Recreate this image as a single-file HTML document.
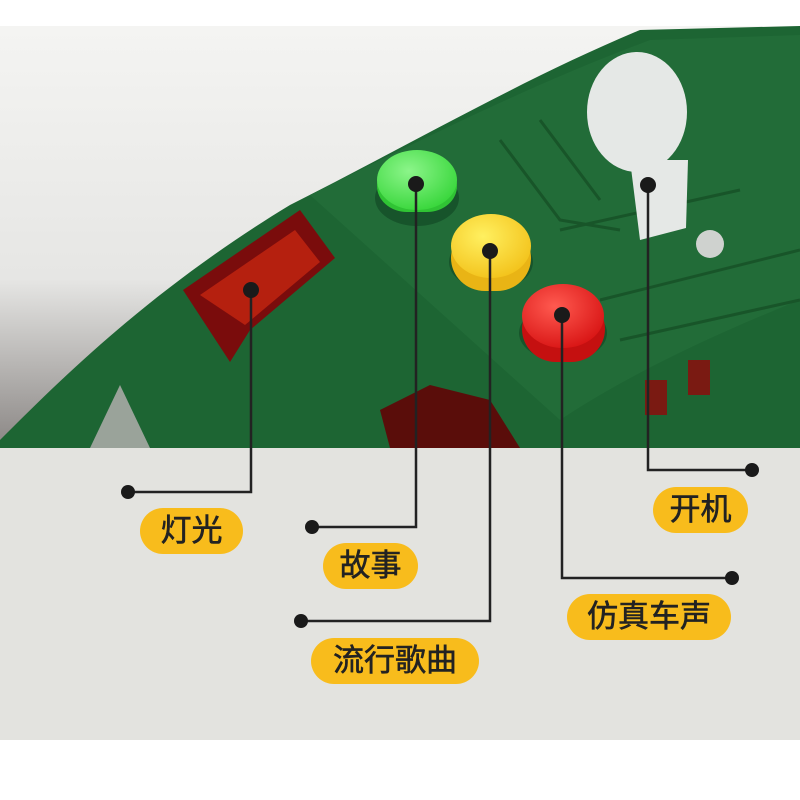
<!DOCTYPE html>
<html><head><meta charset="utf-8"><style>
body{margin:0;width:800px;height:800px;overflow:hidden;background:#fff;font-family:"Liberation Sans","Noto Sans CJK SC",sans-serif}
.pill{position:absolute;background:#f8bc1c;border-radius:23px;height:46px;line-height:46px;text-align:center;font-size:31px;color:#222;-webkit-text-stroke:0.6px #222}
</style></head><body>
<svg width="800" height="800" style="position:absolute;left:0;top:0">
<defs>
<linearGradient id="bg" x1="0" y1="0" x2="0" y2="1"><stop offset="0" stop-color="#f4f4f2"/><stop offset="0.6" stop-color="#e6e6e4"/><stop offset="1" stop-color="#8a8684"/></linearGradient>
<radialGradient id="gb" cx="0.4" cy="0.35" r="0.7"><stop offset="0" stop-color="#8cf58a"/><stop offset="1" stop-color="#37d63a"/></radialGradient>
<radialGradient id="yb" cx="0.4" cy="0.35" r="0.7"><stop offset="0" stop-color="#fff060"/><stop offset="1" stop-color="#f3c21a"/></radialGradient>
<radialGradient id="rb" cx="0.4" cy="0.35" r="0.7"><stop offset="0" stop-color="#ff5a50"/><stop offset="1" stop-color="#d81414"/></radialGradient>
</defs>
<rect x="0" y="26" width="800" height="422" fill="url(#bg)"/>
<rect x="0" y="448" width="800" height="292" fill="#e3e3df"/>
<path d="M0 448 L0 440 C60 380 150 290 290 205 C400 150 520 80 640 30 L800 26 L800 448 Z" fill="#1d6533"/>
<path d="M310 195 C420 140 530 85 650 40 L800 35 L800 300 C700 340 620 380 560 420 Z" fill="#226c38"/>
<g stroke="#185529" stroke-width="3" fill="none">
<path d="M500 140 L560 220 L620 230 M540 120 L600 200 M560 230 L740 190 M600 300 L800 250 M620 340 L800 300"/>
</g>
<path d="M183 290 L300 210 L335 258 L250 330 L230 362 Z" fill="#7a0c0c"/>
<path d="M200 295 L295 230 L320 262 L245 325 Z" fill="#b5200f"/>
<path d="M380 410 L430 385 L490 400 L520 448 L390 448 Z" fill="#5a0d0a"/>
<rect x="645" y="380" width="22" height="35" fill="#7a1a12"/><rect x="688" y="360" width="22" height="35" fill="#7a1a12"/>
<path d="M90 448 L120 385 L150 448 Z" fill="#9aa39a"/>
<ellipse cx="637" cy="112" rx="50" ry="60" fill="#e5e8e6"/>
<path d="M630 160 L688 160 L686 228 L640 240 Z" fill="#e5e8e6"/>
<circle cx="710" cy="244" r="14" fill="#cfd2cf"/>
<ellipse cx="417" cy="198" rx="42" ry="28" fill="#17542b"/>
<rect x="377" y="160" width="80" height="52" rx="30" fill="#30c434"/>
<ellipse cx="417" cy="180" rx="40" ry="30" fill="url(#gb)"/>
<ellipse cx="491" cy="262" rx="42" ry="28" fill="#17542b"/>
<rect x="451" y="225" width="80" height="66" rx="34" fill="#e9b415"/>
<ellipse cx="491" cy="246" rx="40" ry="32" fill="url(#yb)"/>
<ellipse cx="563" cy="333" rx="44" ry="28" fill="#17542b"/>
<rect x="522" y="296" width="83" height="66" rx="34" fill="#c51010"/>
<ellipse cx="563" cy="316" rx="41" ry="32" fill="url(#rb)"/>
<g stroke="#222" stroke-width="2.5" fill="none">
<path d="M128 492 H251 V290"/>
<path d="M312 527 H416 V184"/>
<path d="M301 621 H490 V251"/>
<path d="M732 578 H562 V315"/>
<path d="M752 470 H648 V185"/>
</g>
<g fill="#1a1a1a">
<circle cx="128" cy="492" r="7"/><circle cx="251" cy="290" r="8"/>
<circle cx="312" cy="527" r="7"/><circle cx="416" cy="184" r="8"/>
<circle cx="301" cy="621" r="7"/><circle cx="490" cy="251" r="8"/>
<circle cx="732" cy="578" r="7"/><circle cx="562" cy="315" r="8"/>
<circle cx="752" cy="470" r="7"/><circle cx="648" cy="185" r="8"/>
</g>
</svg>
<div class="pill" style="left:140px;top:508px;width:103px">灯光</div>
<div class="pill" style="left:323px;top:543px;width:95px">故事</div>
<div class="pill" style="left:311px;top:638px;width:168px">流行歌曲</div>
<div class="pill" style="left:653px;top:487px;width:95px">开机</div>
<div class="pill" style="left:567px;top:594px;width:164px">仿真车声</div>
</body></html>
